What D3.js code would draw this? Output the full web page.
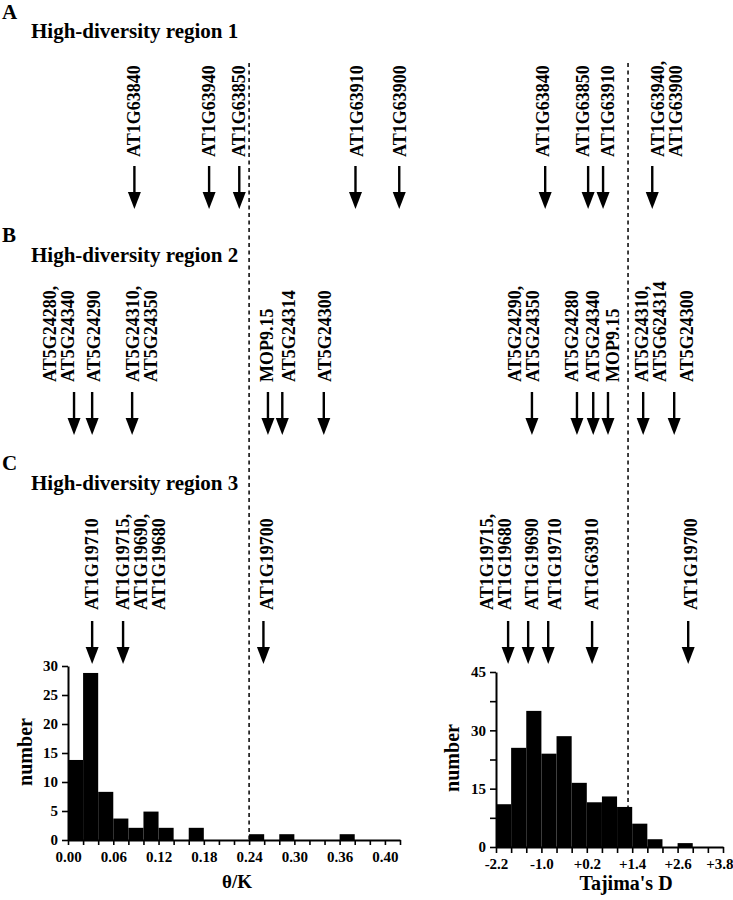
<!DOCTYPE html>
<html><head><meta charset="utf-8">
<script src="https://cdn.jsdelivr.net/npm/d3@7"></script>
<style>
body{margin:0;background:#fff}
svg text{font-family:"Liberation Serif","Times New Roman",Times,serif;font-weight:bold;fill:#000}
</style>
</head><body>
<svg id="chart" width="733" height="900"></svg>
<script>
// ---------------- DATA ----------------
const panelLetters = ["A", "B", "C"];
const panelTitles = ["High-diversity region 1", "High-diversity region 2", "High-diversity region 3"];

// histogram of theta/K (bin start, width 0.02)
const thetaBinStarts = [0.00,0.02,0.04,0.06,0.08,0.10,0.12,0.14,0.16,0.18,0.20,0.22,0.24,0.26,0.28,0.30,0.32,0.34,0.36];
const thetaCounts    = [13.8,28.8,8.3,3.7,2.1,4.9,2.1,0,2.1,0,0,0,1,0,1,0,0,0,1];
const thetaBinWidth = 0.02;
const thetaTicks = [0,0.02,0.04,0.06,0.08,0.10,0.12,0.14,0.16,0.18,0.20,0.22,0.24,0.26,0.28,0.30,0.32,0.34,0.36,0.38,0.40,0.42,0.44];
const thetaLabelValues = [0,0.06,0.12,0.18,0.24,0.30,0.36,0.42];
const thetaLabelTexts  = ["0.00","0.06","0.12","0.18","0.24","0.30","0.36","0.40"];
const thetaYTicks = [0,5,10,15,20,25,30];
const thetaCutoff = 0.24;

// histogram of Tajima's D (bin start, width 0.4)
const tajimaBinStarts = [-2.2,-1.8,-1.4,-1.0,-0.6,-0.2,0.2,0.6,1.0,1.4,1.8,2.2,2.6,3.0,3.4];
const tajimaCounts    = [11,25.5,35,24,28.5,16.5,11.5,13,10.3,6,2,0,1,0,0];
const tajimaBinWidth = 0.4;
const tajimaTicks = [-2.2,-1.8,-1.4,-1.0,-0.6,-0.2,0.2,0.6,1.0,1.4,1.8,2.2,2.6,3.0,3.4,3.8];
const tajimaLabelValues = [-2.2,-1.0,0.2,1.4,2.6,3.8];
const tajimaLabelTexts  = ["-2.2","-1.0","+0.2","+1.4","+2.6","+3.8"];
const tajimaYTicks = [0,7.5,15,22.5,30,37.5,45];
const tajimaYLabels = [0,15,30,45];
const tajimaCutoff = 1.29;

// gene markers: theta/K values (left column)
const thetaGenesA = [["AT1G63840"],["AT1G63940"],["AT1G63850"],["AT1G63910"],["AT1G63900"]];
const thetaValuesA = [0.088,0.187,0.227,0.381,0.439];
const thetaGenesB = [["AT5G24280,","AT5G24340"],["AT5G24290"],["AT5G24310,","AT5G24350"],["MOP9.15"],["AT5G24314"],["AT5G24300"]];
const thetaValuesB = [0.008,0.032,0.085,0.265,0.284,0.339];
const thetaGenesC = [["AT1G19710"],["AT1G19715,","AT1G19690,","AT1G19680"],["AT1G19700"]];
const thetaValuesC = [0.032,0.073,0.259];

// gene markers: Tajima's D values (right column)
const tajimaGenesA = [["AT1G63840"],["AT1G63850"],["AT1G63910"],["AT1G63940,","AT1G63900"]];
const tajimaValuesA = [-0.90,0.235,0.63,1.93];
const tajimaGenesB = [["AT5G24290,","AT5G24350"],["AT5G24280"],["AT5G24340"],["MOP9.15"],["AT5G24310,","AT5G624314"],["AT5G24300"]];
const tajimaValuesB = [-1.25,-0.06,0.37,0.76,1.69,2.51];
const tajimaGenesC = [["AT1G19715,","AT1G19680"],["AT1G19690"],["AT1G19710"],["AT1G63910"],["AT1G19700"]];
const tajimaValuesC = [-1.88,-1.35,-0.82,0.34,2.88];

// ---------------- LAYOUT ----------------
const layoutPanels = [
  {letterY:19, titleY:38, labelBottom:157, arrowTop:166},
  {letterY:242, titleY:262, labelBottom:382, arrowTop:392},
  {letterY:470, titleY:490, labelBottom:610, arrowTop:621}
];
const labelShiftLeft  = [[0,0,0,2,1],[-24,2,1,-1,7,1],[0,0,4]];
const labelShiftRight = [[-2,-5,5,6],[-17,-5,0,5,-1,13],[-21,4,7,0,3]];
const lineStep = 18;

const svg = d3.select("#chart");

const xTheta = d3.scaleLinear().domain([0,0.44]).range([68,400]);
const yTheta = d3.scaleLinear().domain([0,30]).range([840,666]);
const xTaj = d3.scaleLinear().domain([-2.2,3.8]).range([496,723]);
const yTaj = d3.scaleLinear().domain([0,45]).range([847,672]);

// panel letters & titles
layoutPanels.forEach((p,i)=>{
  svg.append("text").attr("x",2).attr("y",p.letterY).attr("font-size",21).text(panelLetters[i]);
  svg.append("text").attr("x",31).attr("y",p.titleY).attr("font-size",21).text(panelTitles[i]);
});

// dashed cut-off lines
svg.append("line").attr("x1",xTheta(thetaCutoff)).attr("x2",xTheta(thetaCutoff))
  .attr("y1",63).attr("y2",yTheta(0)).attr("stroke","#000").attr("stroke-width",1.5).attr("stroke-dasharray","4,3.5");
svg.append("line").attr("x1",xTaj(tajimaCutoff)).attr("x2",xTaj(tajimaCutoff))
  .attr("y1",63).attr("y2",yTaj(0)).attr("stroke","#000").attr("stroke-width",1.5).attr("stroke-dasharray","4,3.5");

function drawMarkers(scale, genes, values, shifts, p){
  values.forEach((v,i)=>{
    const x = scale(v);
    const g = svg.append("g");
    g.append("line").attr("x1",x).attr("x2",x).attr("y1",p.arrowTop).attr("y2",p.arrowTop+27)
      .attr("stroke","#000").attr("stroke-width",2.4);
    g.append("path").attr("d",`M${x-6.5},${p.arrowTop+26}L${x+6.5},${p.arrowTop+26}L${x},${p.arrowTop+43}Z`).attr("fill","#000");
    genes[i].forEach((t,j)=>{
      const lx = x + shifts[i] + j*lineStep;
      g.append("text").attr("transform",`translate(${lx},${p.labelBottom}) rotate(-90)`)
        .attr("dy","0.33em").attr("font-size",18).text(t);
    });
  });
}
drawMarkers(xTheta, thetaGenesA, thetaValuesA, labelShiftLeft[0], layoutPanels[0]);
drawMarkers(xTheta, thetaGenesB, thetaValuesB, labelShiftLeft[1], layoutPanels[1]);
drawMarkers(xTheta, thetaGenesC, thetaValuesC, labelShiftLeft[2], layoutPanels[2]);
drawMarkers(xTaj, tajimaGenesA, tajimaValuesA, labelShiftRight[0], layoutPanels[0]);
drawMarkers(xTaj, tajimaGenesB, tajimaValuesB, labelShiftRight[1], layoutPanels[1]);
drawMarkers(xTaj, tajimaGenesC, tajimaValuesC, labelShiftRight[2], layoutPanels[2]);

// histogram bars
svg.append("g").selectAll("rect").data(thetaBinStarts).join("rect")
  .attr("x",d=>xTheta(d)).attr("width",d=>xTheta(d+thetaBinWidth)-xTheta(d))
  .attr("y",(d,i)=>yTheta(thetaCounts[i])).attr("height",(d,i)=>yTheta(0)-yTheta(thetaCounts[i]))
  .attr("fill","#000");
svg.append("g").selectAll("rect").data(tajimaBinStarts).join("rect")
  .attr("x",d=>xTaj(d)).attr("width",d=>xTaj(d+tajimaBinWidth)-xTaj(d))
  .attr("y",(d,i)=>yTaj(tajimaCounts[i])).attr("height",(d,i)=>yTaj(0)-yTaj(tajimaCounts[i]))
  .attr("fill","#000");

function styleAxis(g){
  g.attr("font-family",null).attr("font-size",null);
  g.select(".domain").attr("stroke-width",2);
  g.selectAll(".tick line").attr("stroke-width",1.6);
  g.selectAll("text").attr("font-size",15);
}

// left axes
svg.append("g").attr("transform",`translate(0,${yTheta(0)})`)
  .call(d3.axisBottom(xTheta).tickValues(thetaTicks).tickSize(5).tickSizeOuter(0).tickFormat(""))
  .call(styleAxis);
svg.append("g").attr("transform",`translate(0,${yTheta(0)})`)
  .call(d3.axisBottom(xTheta).tickValues(thetaLabelValues).tickSize(0).tickPadding(11).tickFormat((d,i)=>thetaLabelTexts[i]))
  .call(g=>g.select(".domain").remove()).call(styleAxis);
svg.append("g").attr("transform",`translate(${xTheta(0)},0)`)
  .call(d3.axisLeft(yTheta).tickValues(thetaYTicks).tickSize(6).tickSizeOuter(0).tickPadding(4).tickFormat(d3.format("d")))
  .call(styleAxis);

// right axes
svg.append("g").attr("transform",`translate(0,${yTaj(0)})`)
  .call(d3.axisBottom(xTaj).tickValues(tajimaTicks).tickSize(6).tickSizeOuter(0).tickFormat(""))
  .call(styleAxis);
svg.append("g").attr("transform",`translate(0,${yTaj(0)})`)
  .call(d3.axisBottom(xTaj).tickValues(tajimaLabelValues).tickSize(0).tickPadding(11).tickFormat((d,i)=>tajimaLabelTexts[i]))
  .call(g=>g.select(".domain").remove()).call(styleAxis)
  .call(g=>g.selectAll(".tick").filter((d,i,n)=>i===n.length-1).select("text")
    .attr("text-anchor","end").attr("x",10));
svg.append("g").attr("transform",`translate(${xTaj.range()[0]},0)`)
  .call(d3.axisLeft(yTaj).tickValues(tajimaYTicks).tickSize(6).tickSizeOuter(0).tickPadding(4)
    .tickFormat(d=>tajimaYLabels.includes(d)?d3.format("d")(d):""))
  .call(styleAxis);

// axis titles
svg.append("text").attr("transform","translate(26,752) rotate(-90)").attr("dy","0.3em")
  .attr("text-anchor","middle").attr("font-size",20).text("number");
svg.append("text").attr("transform","translate(453,758) rotate(-90)").attr("dy","0.3em")
  .attr("text-anchor","middle").attr("font-size",20).text("number");
svg.append("text").attr("x",237).attr("y",888).attr("text-anchor","middle").attr("font-size",19).text("θ/K");
svg.append("text").attr("x",626).attr("y",890).attr("text-anchor","middle").attr("font-size",20).text("Tajima's D");
</script>
</body></html>
